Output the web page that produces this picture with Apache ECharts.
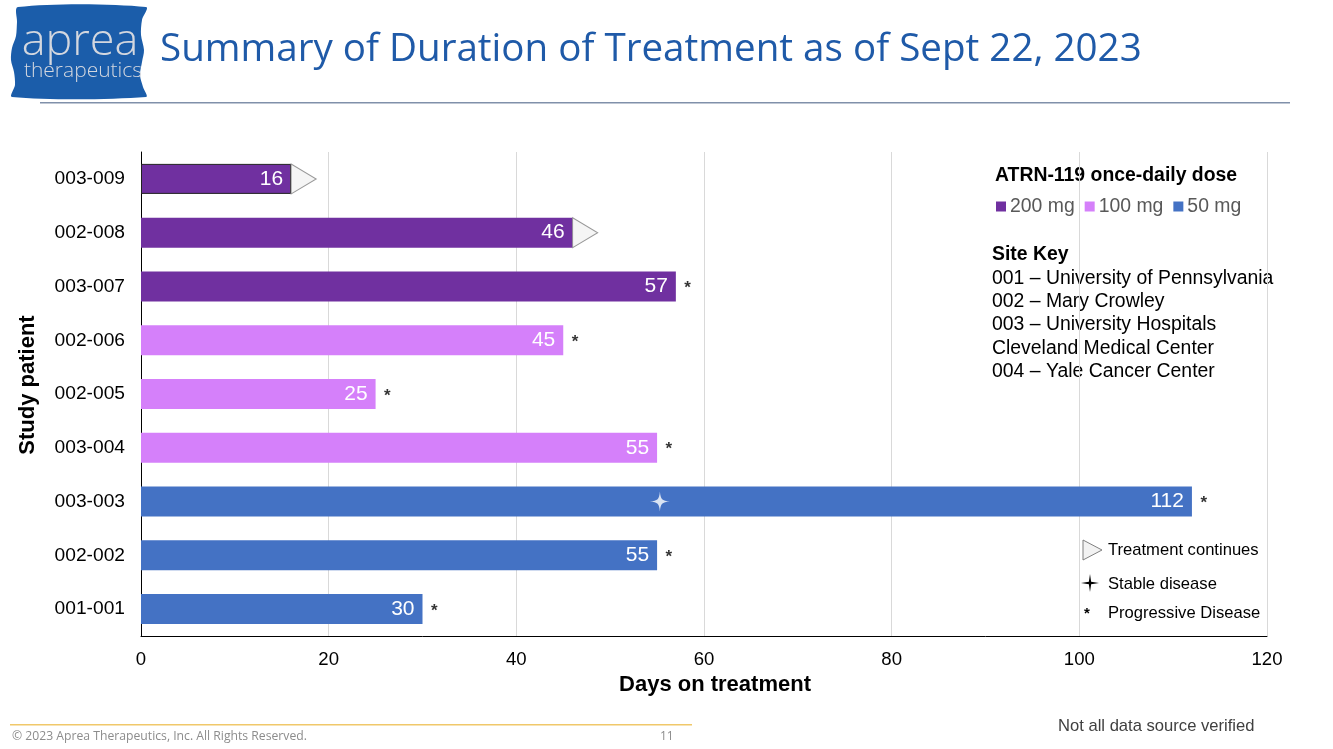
<!DOCTYPE html>
<html><head><meta charset="utf-8">
<script src="https://cdn.jsdelivr.net/npm/echarts@6/dist/echarts.min.js"></script>
<style>html,body{margin:0;padding:0;background:#fff}#c{width:1333px;height:749px}</style>
</head><body><div id="c"></div>
<script>
const patients = ['003-009','002-008','003-007','002-006','002-005','003-004','003-003','002-002','001-001'];
const days = [16,46,57,45,25,55,112,55,30];
const doses = ['200 mg','200 mg','200 mg','100 mg','100 mg','100 mg','50 mg','50 mg','50 mg'];
const doseGroups = ['200 mg','100 mg','50 mg'];
const doseColors = ['#7030A0','#D580FA','#4472C4'];
const continuing = ['003-009','002-008'];
const progressive = ['003-007','002-006','002-005','003-004','003-003','002-002','001-001'];
const stable = [[55.3,'003-003']];
const xTicks = [0,20,40,60,80,100,120];
const siteKey = ['001 – University of Pennsylvania','002 – Mary Crowley','003 – University Hospitals','Cleveland Medical Center','004 – Yale Cancer Center'];

const F = '"Liberation Sans", Arial, sans-serif';
const triPath = 'path://M0,0 L1,0.5 L0,1 Z';
const starPath = 'path://M50,0 C54,40 60,46 100,50 C60,54 54,60 50,100 C46,60 40,54 0,50 C40,46 46,40 50,0 Z';

function star(cx,cy,r,ri){
  const pts=[];
  for(let k=0;k<8;k++){
    const a=k*Math.PI/4 - Math.PI/2;
    const rr = k%2===0 ? r : ri;
    pts.push([cx+rr*Math.cos(a), cy+rr*Math.sin(a)]);
  }
  return pts;
}

const chart = echarts.init(document.getElementById('c'));
const barSeries = doseGroups.map((g,gi)=>({
  name:g, type:'bar', stack:'total', barWidth:30,
  itemStyle:{color:doseColors[gi]},
  label:{show:true,position:'insideRight',color:'#fff',fontSize:21,fontFamily:F,distance:8,
    formatter:p=>p.value==null?'':p.value},
  data: patients.map((p,i)=>{
    if(doses[i]!==g) return null;
    if(i===0) return {value:days[i],itemStyle:{borderColor:'#222',borderWidth:1}};
    return days[i];
  })
}));
const byName = n => days[patients.indexOf(n)];
const logoPts = [[18,7],[146,7],[142,20],[141,35],[144,50],[142,62],[140,75],[143,87],[146,97],[12,97],[15,85],[14,72],[11,60],[12,48],[16,36],[17,22]];
const opt = {
  animation:false,
  textStyle:{fontFamily:F},
  grid:{left:141,right:66,top:152,height:484,containLabel:false},
  xAxis:{type:'value',min:0,max:120,interval:20,
    axisLine:{show:true,lineStyle:{color:'#000',width:1}},axisTick:{show:false},
    splitLine:{show:true,lineStyle:{color:'#D9D9D9'}},
    axisLabel:{color:'#000',fontSize:18.6,margin:14,fontFamily:F,formatter:v=>xTicks.includes(v)?String(v):''},
    name:'Days on treatment',nameLocation:'middle',nameGap:35,
    nameTextStyle:{fontSize:22,fontWeight:'bold',color:'#000',fontFamily:F,padding:[0,0,0,22]}},
  yAxis:{type:'category',data:patients,inverse:true,
    axisLine:{show:true,lineStyle:{color:'#000',width:1}},axisTick:{show:false},
    axisLabel:{color:'#000',fontSize:19.2,margin:16,fontFamily:F}},
  legend:{data:doseGroups,left:991,top:192,icon:'rect',itemWidth:10,itemHeight:10,itemGap:10,
    textStyle:{fontSize:19.4,color:'#595959',fontFamily:F,padding:[0,0,0,-1]}},
  series:[...barSeries,
    {name:'continues',type:'scatter',symbol:triPath,symbolSize:[25,30],symbolOffset:[12.5,0],symbolKeepAspect:false,
      itemStyle:{color:'#F2F2F2',borderColor:'#7F7F7F',borderWidth:1},z:5,
      data:continuing.map(n=>[byName(n),n])},
    {name:'progressive',type:'scatter',symbolSize:1,itemStyle:{color:'rgba(0,0,0,0)'},
      label:{show:true,position:'right',distance:8,formatter:'*',fontSize:17,fontWeight:'bold',color:'#000',fontFamily:F,offset:[0,2]},
      data:progressive.map(n=>[byName(n),n])},
    {name:'stable',type:'scatter',symbol:starPath,symbolSize:20,itemStyle:{color:'#fff'},z:6,data:stable}
  ],
  graphic:[
    {type:'polygon',shape:{points:logoPts,smooth:0.3},style:{fill:'#1B5DAA'}},
    {type:'text',style:{x:80,y:42,text:'aprea',font:'300 45px "Open Sans", sans-serif',fill:'#D3D7DF',textAlign:'center',textVerticalAlign:'middle'}},
    {type:'text',style:{x:83,y:71,text:'therapeutics',font:'300 21px "Open Sans", sans-serif',fill:'#D3D7DF',textAlign:'center',textVerticalAlign:'middle'}},
    {type:'text',style:{x:160,y:50,text:'Summary of Duration of Treatment as of Sept 22, 2023',font:'38.6px "Open Sans", sans-serif',fill:'#1F5AA8',textVerticalAlign:'middle'}},
    {type:'rect',shape:{x:40,y:102,width:1250,height:1.5},style:{fill:'#8090AA'}},
    {type:'text',style:{x:28,y:385,text:'Study patient',font:'bold 22px '+F,fill:'#000',textAlign:'center',textVerticalAlign:'middle'},rotation:Math.PI/2,originX:28,originY:385},
    {type:'text',style:{x:995,y:176,text:'ATRN-119 once-daily dose',font:'bold 19.4px '+F,fill:'#000',textVerticalAlign:'middle'}},
    {type:'text',style:{x:992,y:255,text:'Site Key',font:'bold 19.4px '+F,fill:'#000',textVerticalAlign:'middle'}},
    ...siteKey.map((s,i)=>({type:'text',style:{x:992,y:278.5+i*23.3,text:s,font:'19.4px '+F,fill:'#000',textVerticalAlign:'middle'}})),
    {type:'polygon',shape:{points:[[1083,540],[1102,550],[1083,560]]},style:{fill:'#F2F2F2',stroke:'#7F7F7F',lineWidth:1}},
    {type:'text',style:{x:1108,y:550,text:'Treatment continues',font:'16.6px '+F,fill:'#000',textVerticalAlign:'middle'}},
    {type:'polygon',shape:{points:star(1090,583,9,1.6)},style:{fill:'#000'}},
    {type:'text',style:{x:1108,y:584,text:'Stable disease',font:'16.6px '+F,fill:'#000',textVerticalAlign:'middle'}},
    {type:'text',style:{x:1084,y:614,text:'*',font:'bold 15px '+F,fill:'#000',textVerticalAlign:'middle'}},
    {type:'text',style:{x:1108,y:613,text:'Progressive Disease',font:'16.6px '+F,fill:'#000',textVerticalAlign:'middle'}},
    {type:'rect',shape:{x:10,y:724,width:682,height:1.5},style:{fill:'#F0C86A'}},
    {type:'text',style:{x:12,y:737,text:'© 2023 Aprea Therapeutics, Inc. All Rights Reserved.',font:'12.2px "Open Sans", sans-serif',fill:'#8C8C8C',textVerticalAlign:'middle'}},
    {type:'text',style:{x:660,y:737,text:'11',font:'12px "Open Sans", sans-serif',fill:'#8C8C8C',textVerticalAlign:'middle'}},
    {type:'text',style:{x:1058,y:726,text:'Not all data source verified',font:'16.6px '+F,fill:'#404040',textVerticalAlign:'middle'}}
  ]
};
chart.setOption(opt);
</script></body></html>
